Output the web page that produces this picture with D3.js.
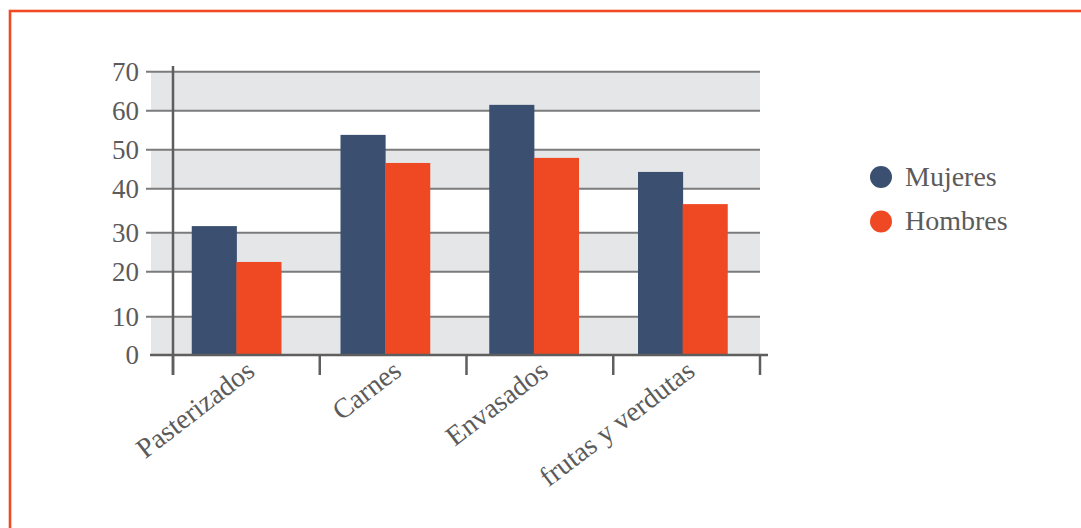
<!DOCTYPE html>
<html>
<head>
<meta charset="utf-8">
<script src="https://cdn.jsdelivr.net/npm/d3@7/dist/d3.min.js"></script>
<style>
  html, body { margin: 0; padding: 0; background: #fff; }
  svg { display: block; }
  text { font-family: "Liberation Serif", "DejaVu Serif", serif; fill: #5b5b5b; }
</style>
</head>
<body>
<svg id="chart" width="1081" height="528"></svg>
<script>
// ---- data ----
const categories = ["Pasterizados", "Carnes", "Envasados", "frutas y verdutas"];
const seriesNames = ["Mujeres", "Hombres"];
const mujeres = [31.5, 53.8, 61.5, 44.3];
const hombres = [22.5, 46.6, 47.9, 36.5];
const yTicks = [0, 10, 20, 30, 40, 50, 60, 70];
const colors = ["#3b5070", "#ef4923"];

// ---- layout ----
const svg = d3.select("#chart");
const W = 1081, H = 528;

// page border
svg.append("rect")
  .attr("x", 10).attr("y", 11)
  .attr("width", W + 20).attr("height", H + 20)
  .attr("fill", "none").attr("stroke", "#f04a24").attr("stroke-width", 2.6);

// the original's gridlines are unevenly spaced; reproduce with a piecewise linear scale
const y = d3.scaleLinear()
  .domain(yTicks)
  .range([355, 316.7, 271.7, 232.7, 188.7, 149.7, 110.7, 71.7]);

const xBars = d3.scaleBand().domain(categories).range([162, 757])
  .paddingInner(0.4).paddingOuter(0.2);
const xSeries = d3.scaleBand().domain(seriesNames).range([0, xBars.bandwidth()]);
const xAxisScale = d3.scaleBand().domain(categories).range([173, 760]);

const gridLeft = 146, bandLeft = 151, gridRight = 760;

// alternating bands
const bandPairs = d3.pairs(yTicks).filter((d, i) => i % 2 === 0);
svg.append("g").selectAll("rect").data(bandPairs).join("rect")
  .attr("x", bandLeft)
  .attr("y", d => y(d[1]))
  .attr("width", gridRight - bandLeft)
  .attr("height", d => y(d[0]) - y(d[1]))
  .attr("fill", "#e5e6e8");
svg.append("g").selectAll("rect").data(d3.pairs(yTicks).filter((d, i) => i % 2 === 1)).join("rect")
  .attr("x", bandLeft)
  .attr("y", d => y(d[1]))
  .attr("width", gridRight - bandLeft)
  .attr("height", d => y(d[0]) - y(d[1]))
  .attr("fill", "#ffffff");

// grid lines
svg.append("g").selectAll("line").data(yTicks.filter(t => t > 0)).join("line")
  .attr("x1", gridLeft).attr("x2", gridRight)
  .attr("y1", d => y(d)).attr("y2", d => y(d))
  .attr("stroke", "#7b7b7b").attr("stroke-width", 2);

// y tick labels
svg.append("g").selectAll("text").data(yTicks).join("text")
  .attr("x", 139)
  .attr("y", d => y(d))
  .attr("dy", "0.33em")
  .attr("text-anchor", "end")
  .attr("font-size", 27)
  .text(d => d);

// bars
const rows = categories.map((c, i) => ({ cat: c, vals: [mujeres[i], hombres[i]] }));
const groups = svg.append("g").selectAll("g").data(rows).join("g")
  .attr("transform", d => `translate(${xBars(d.cat)},0)`);
groups.selectAll("rect").data(d => d.vals.map((v, j) => ({ s: seriesNames[j], v, j }))).join("rect")
  .attr("x", d => xSeries(d.s))
  .attr("y", d => y(d.v))
  .attr("width", xSeries.bandwidth() + 0.5)
  .attr("height", d => y(0) + 1 - y(d.v))
  .attr("fill", d => colors[d.j]);

// axes lines
const axisColor = "#5e5e5e";
svg.append("line")
  .attr("x1", gridLeft + 4).attr("x2", 768)
  .attr("y1", y(0)).attr("y2", y(0))
  .attr("stroke", axisColor).attr("stroke-width", 2.5);
svg.append("line")
  .attr("x1", xAxisScale.range()[0]).attr("x2", xAxisScale.range()[0])
  .attr("y1", 66).attr("y2", 375)
  .attr("stroke", axisColor).attr("stroke-width", 2.5);

// x ticks at category boundaries
const tickXs = categories.map(c => xAxisScale(c)).concat([xAxisScale.range()[1]]);
svg.append("g").selectAll("line").data(tickXs).join("line")
  .attr("x1", d => d).attr("x2", d => d)
  .attr("y1", y(0)).attr("y2", 375)
  .attr("stroke", axisColor).attr("stroke-width", 2.5);

// category labels
svg.append("g").selectAll("text").data(categories).join("text")
  .attr("text-anchor", "end")
  .attr("font-size", 28)
  .attr("transform", c => `translate(${xAxisScale(c) + xAxisScale.bandwidth() / 2 + 10},${374}) rotate(-37.5)`)
  .text(c => c);

// legend
const legend = svg.append("g").selectAll("g").data(seriesNames).join("g")
  .attr("transform", (d, i) => `translate(881,${177 + i * 44.5})`);
legend.append("circle").attr("r", 11).attr("fill", (d, i) => colors[i]);
legend.append("text")
  .attr("x", 24).attr("y", 8.5)
  .attr("font-size", 28)
  .text(d => d);
</script>
</body>
</html>
